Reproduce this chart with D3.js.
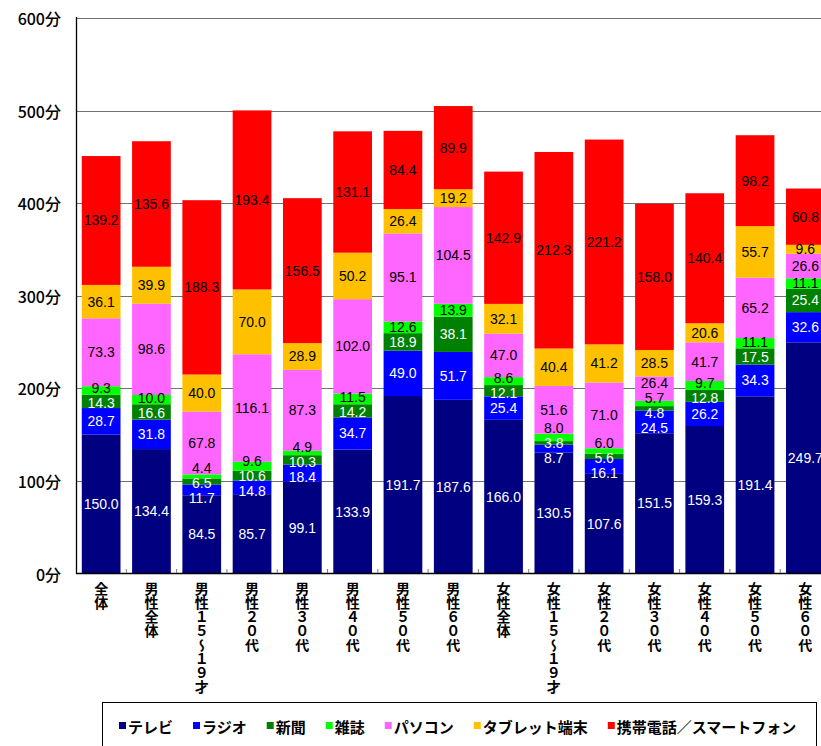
<!DOCTYPE html>
<html>
<head>
<meta charset="utf-8">
<script src="https://cdn.jsdelivr.net/npm/d3@7"></script>
<style>
  body { margin: 0; background: #fff; }
  svg { display: block; }
</style>
</head>
<body>
<svg id="chart" width="821" height="746"></svg>
<script>
// categories (x axis) and the seven stacked series, bottom to top
const categories = ['全体', '男性全体', '男性１５～１９才', '男性２０代', '男性３０代', '男性４０代', '男性５０代', '男性６０代',
  '女性全体', '女性１５～１９才', '女性２０代', '女性３０代', '女性４０代', '女性５０代', '女性６０代'];
const seriesNames = ['テレビ', 'ラジオ', '新聞', '雑誌', 'パソコン', 'タブレット端末', '携帯電話／スマートフォン'];

const tv        = [150.0, 134.4, 84.5, 85.7, 99.1, 133.9, 191.7, 187.6, 166.0, 130.5, 107.6, 151.5, 159.3, 191.4, 249.7];
const radio     = [28.7, 31.8, 11.7, 14.8, 18.4, 34.7, 49.0, 51.7, 25.4, 8.7, 16.1, 24.5, 26.2, 34.3, 32.6];
const newspaper = [14.3, 16.6, 6.5, 10.6, 10.3, 14.2, 18.9, 38.1, 12.1, 3.8, 5.6, 4.8, 12.8, 17.5, 25.4];
const magazine  = [9.3, 10.0, 4.4, 9.6, 4.9, 11.5, 12.6, 13.9, 8.6, 8.0, 6.0, 5.7, 9.7, 11.1, 11.1];
const pc        = [73.3, 98.6, 67.8, 116.1, 87.3, 102.0, 95.1, 104.5, 47.0, 51.6, 71.0, 26.4, 41.7, 65.2, 26.6];
const tablet    = [36.1, 39.9, 40.0, 70.0, 28.9, 50.2, 26.4, 19.2, 32.1, 40.4, 41.2, 28.5, 20.6, 55.7, 9.6];
const mobile    = [139.2, 135.6, 188.3, 193.4, 156.5, 131.1, 84.4, 89.9, 142.9, 212.3, 221.2, 158.0, 140.4, 98.2, 60.8];

const yTicks = [0, 100, 200, 300, 400, 500, 600];

const seriesValues = [tv, radio, newspaper, magazine, pc, tablet, mobile];
const colors = ['#000080', '#0000ff', '#008000', '#00ff00', '#ff66ff', '#ffc000', '#ff0000'];
const labelColors = ['#fff', '#fff', '#fff', '#000', '#000', '#000', '#000'];

// table for d3.stack
const table = categories.map((c, i) => {
  const row = { cat: c };
  seriesNames.forEach((s, k) => { row[s] = seriesValues[k][i]; });
  return row;
});
const stacked = d3.stack().keys(seriesNames)(table);

const svg = d3.select('#chart');
const jpFont = '"Noto Sans CJK JP", "Noto Sans", sans-serif';
const numFont = '"Liberation Sans Narrow", "Liberation Sans", Arial, sans-serif';

// plot runs past the right edge of the window, as in the reference
const x = d3.scaleBand()
  .domain(categories)
  .range([76, 830.5])
  .paddingInner(0.23)
  .paddingOuter(0.115);

const y = d3.scaleLinear()
  .domain([0, 600])
  .range([573.5, 18]);

// gridlines behind bars
svg.append('g')
  .selectAll('line')
  .data(yTicks.filter(t => t > 0))
  .enter().append('line')
  .attr('x1', 76).attr('x2', 838)
  .attr('y1', d => Math.round(y(d)) + 0.5)
  .attr('y2', d => Math.round(y(d)) + 0.5)
  .attr('stroke', '#707070')
  .attr('stroke-width', 1.2);

// stacked bars
svg.append('g')
  .selectAll('g')
  .data(stacked)
  .enter().append('g')
  .attr('fill', (d, k) => colors[k])
  .selectAll('rect')
  .data(d => d)
  .enter().append('rect')
  .attr('x', d => x(d.data.cat))
  .attr('y', d => y(d[1]))
  .attr('width', x.bandwidth())
  .attr('height', d => y(d[0]) - y(d[1]));

// axes lines
svg.append('line')
  .attr('x1', 76.5).attr('x2', 76.5)
  .attr('y1', 17).attr('y2', 574)
  .attr('stroke', '#000').attr('stroke-width', 1.3);
svg.append('line')
  .attr('x1', 76).attr('x2', 838)
  .attr('y1', 573.5).attr('y2', 573.5)
  .attr('stroke', '#000').attr('stroke-width', 1.6);

// small ticks between categories
const step = x.step();
svg.append('g')
  .selectAll('line')
  .data(d3.range(1, categories.length))
  .enter().append('line')
  .attr('x1', i => 76 + i * step)
  .attr('x2', i => 76 + i * step)
  .attr('y1', 569).attr('y2', 573)
  .attr('stroke', '#808080');

// y tick labels
svg.append('g')
  .selectAll('text')
  .data(yTicks)
  .enter().append('text')
  .attr('x', 61)
  .attr('y', d => y(d))
  .attr('text-anchor', 'end')
  .attr('dominant-baseline', 'central')
  .style('font-family', jpFont)
  .style('font-size', '16px')
  .style('font-weight', 500)
  .text(d => d + '分');

// x labels, vertical
svg.append('g')
  .selectAll('text')
  .data(categories)
  .enter().append('text')
  .attr('x', d => x(d) + x.bandwidth() / 2)
  .attr('y', 582)
  .style('writing-mode', 'vertical-rl')
  .style('font-family', jpFont)
  .style('font-size', '14px')
  .style('font-weight', 'bold')
  .text(d => d);

// data labels, spread so that small segments do not collide
const gap = 15;
categories.forEach((c, i) => {
  const items = stacked.map((s, k) => ({
    k: k,
    v: seriesValues[k][i],
    y: y((s[i][0] + s[i][1]) / 2)
  }));
  for (let it = 0; it < 200; it++) {
    for (let j = 1; j < items.length; j++) {
      const d = items[j - 1].y - items[j].y;
      if (d < gap) {
        const sh = (gap - d) / 2;
        items[j - 1].y += sh;
        items[j].y -= sh;
      }
    }
  }
  svg.append('g')
    .selectAll('text')
    .data(items)
    .enter().append('text')
    .attr('x', x(c) + x.bandwidth() / 2)
    .attr('y', d => d.y)
    .attr('text-anchor', 'middle')
    .attr('dominant-baseline', 'central')
    .attr('fill', d => labelColors[d.k])
    .style('font-family', numFont)
    .style('font-size', '14px')
    .text(d => d.v.toFixed(1));
});

// legend
const lg = svg.append('g');
lg.append('rect')
  .attr('x', 102.5).attr('y', 702.5)
  .attr('width', 714).attr('height', 60)
  .attr('fill', '#fff')
  .attr('stroke', '#000');
let lx = 119;
seriesNames.forEach((s, k) => {
  lg.append('rect')
    .attr('x', lx).attr('y', 722)
    .attr('width', 7).attr('height', 7)
    .attr('fill', colors[k]);
  const t = lg.append('text')
    .attr('x', lx + 9)
    .attr('y', 726)
    .attr('dominant-baseline', 'central')
    .style('font-family', jpFont)
    .style('font-size', '15px')
    .style('font-weight', 'bold')
    .text(s);
  lx += 9 + t.node().getComputedTextLength() + 20;
});
</script>
</body>
</html>
